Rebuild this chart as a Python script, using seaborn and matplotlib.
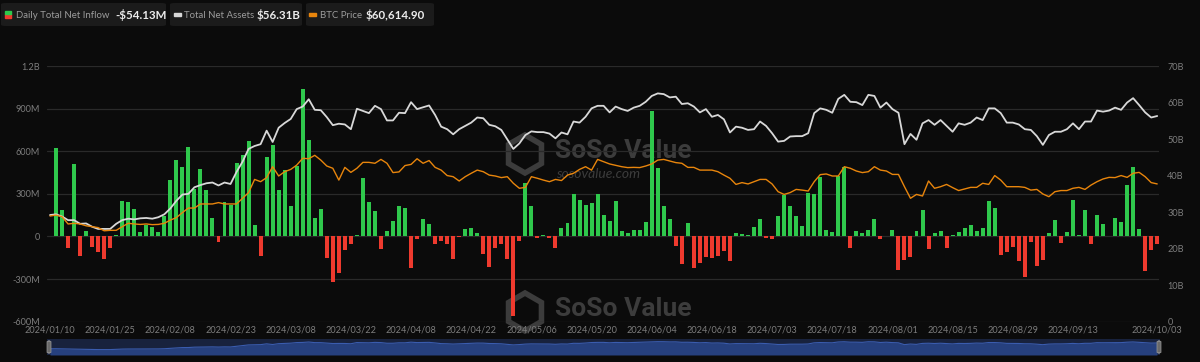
import numpy as np
import pandas as pd
import matplotlib
matplotlib.use("Agg")
import matplotlib.pyplot as plt
import seaborn as sns
from matplotlib.patches import FancyBboxPatch, Rectangle, RegularPolygon

# ---------------- data ----------------
holidays = ["2024-01-15", "2024-02-19", "2024-03-29", "2024-05-27",
            "2024-06-19", "2024-07-04", "2024-09-02"]
dates = [d for d in pd.bdate_range("2024-01-10", "2024-10-03")
         if d.strftime("%Y-%m-%d") not in holidays]

# Daily total net inflow (million USD)
inflow = [
    0, 625, 186, -78, 512, -134, 40, -75, -108, -157,
    -80, 12, 250, 241, 191, 33, 80, 64, 28, 142,
    399, 536, 491, 628, 335, 474, 328, 130, -36, 245,
    224, 514, 571, 670, 80, -140, 559, 642, 328, 470,
    217, 498, 1041, 677, 129, 195, -153, -322, -258, -92,
    -52, 12, 414, 240, 179, -85, 35, 108, 212, 200,
    -223, -16, 120, 87, -54, -35, -56, -162, -3, 56,
    59, 26, -120, -214, -80, -52, -160, -559, -33, 378,
    214, -14, 7, -14, -82, 61, 96, 296, 254, 219,
    237, 301, 150, 106, 249, 40, 23, 45, 45, 101,
    881, 484, 214, 125, -66, -197, 94, -223, -188, -146,
    -150, -139, -101, -172, 26, 16, 9, 70, 125, -9,
    -16, 141, 294, 212, 143, 73, 306, 296, 418, 49,
    33, 423, 489, -78, 40, 26, 47, 120, -16, 0,
    45, -235, -169, -148, 40, 188, -89, 23, 35, -80,
    7, 31, 59, 82, 35, 61, 247, 197, -127, -106,
    -71, -174, -284, -40, -209, -169, 26, 113, -47, 33,
    259, 9, 183, -54, 153, 89, 5, 132, 101, 362,
    489, 56, -242, -92, -54.13,
]

# Total net assets (billion USD)
assets = [
    29.2, 29.4, 28.8, 27.8, 27.8, 26.8, 26.9, 26.0, 25.4, 25.4,
    25.4, 26.8, 27.8, 28.2, 28.0, 28.3, 28.4, 28.2, 28.6, 29.4,
    31.0, 33.1, 34.8, 35.0, 36.8, 37.4, 37.9, 38.1, 37.3, 38.1,
    37.7, 41.0, 43.8, 47.3, 48.1, 48.6, 52.3, 49.2, 53.1, 54.4,
    55.5, 58.2, 58.9, 60.9, 58.0, 57.9, 56.0, 53.8, 54.2, 54.0,
    52.7, 58.3, 57.7, 57.1, 59.1, 58.2, 55.1, 55.1, 57.2, 57.1,
    60.1, 58.2, 58.7, 59.2, 56.6, 53.4, 52.7, 51.3, 52.7, 53.6,
    54.5, 55.9, 55.7, 53.9, 53.5, 52.5, 49.9, 47.3, 48.8, 51.1,
    52.1, 51.9, 51.9, 51.5, 50.2, 51.8, 51.3, 54.8, 54.5, 56.1,
    58.4, 59.1, 59.1, 57.3, 58.9, 58.2, 57.7, 58.6, 59.1, 60.2,
    61.8, 62.5, 62.3, 61.4, 61.6, 59.6, 59.8, 58.9, 57.3, 58.2,
    56.1, 56.6, 55.4, 51.8, 53.4, 53.1, 52.5, 52.7, 54.8, 53.6,
    51.6, 49.3, 49.5, 50.7, 50.8, 50.8, 51.6, 57.1, 58.4, 58.0,
    57.2, 61.0, 62.1, 60.2, 60.1, 59.3, 62.1, 61.8, 58.6, 60.0,
    58.2, 57.2, 48.6, 51.4, 49.8, 54.3, 55.2, 53.9, 55.2, 53.6,
    52.0, 54.3, 53.9, 54.5, 55.9, 55.2, 58.4, 58.4, 57.1, 54.5,
    54.5, 54.0, 52.7, 52.5, 50.8, 48.4, 51.1, 52.0, 52.0, 52.7,
    54.3, 52.7, 54.8, 54.8, 57.8, 57.5, 57.8, 58.6, 58.0, 60.0,
    61.2, 59.3, 57.3, 55.9, 56.31,
]

# BTC price (thousand USD)
btc = [
    46.5, 46.9, 46.2, 43.0, 43.3, 43.0, 42.2, 41.8, 41.4, 40.0,
    40.2, 40.2, 41.8, 43.3, 43.0, 42.8, 43.0, 42.7, 42.8, 43.3,
    44.7, 45.8, 48.0, 50.0, 50.0, 51.8, 51.8, 51.8, 52.4, 51.8,
    51.8, 51.8, 54.3, 56.8, 62.6, 61.6, 63.4, 68.2, 64.1, 66.0,
    67.0, 68.9, 71.9, 71.7, 73.2, 71.1, 68.5, 67.5, 62.3, 67.9,
    65.7, 67.5, 70.1, 70.1, 69.7, 71.4, 69.7, 65.6, 65.9, 68.7,
    69.2, 71.7, 69.7, 70.9, 67.9, 66.7, 64.3, 63.8, 61.9, 63.8,
    65.3, 66.7, 66.0, 64.5, 64.1, 63.4, 63.8, 60.9, 58.7, 59.1,
    63.8, 63.1, 62.3, 61.6, 62.6, 62.1, 64.5, 65.3, 67.0, 68.2,
    66.7, 71.4, 70.4, 69.4, 68.8, 68.2, 67.8, 67.9, 67.8, 68.5,
    69.4, 71.1, 71.4, 70.7, 70.0, 69.7, 67.9, 67.9, 66.7, 66.7,
    66.7, 66.0, 64.5, 63.1, 60.4, 61.2, 60.6, 61.6, 62.6, 62.6,
    60.6, 57.2, 56.0, 56.8, 58.2, 57.9, 57.5, 61.6, 64.7, 65.0,
    64.1, 64.1, 68.2, 67.5, 66.3, 65.6, 66.0, 68.2, 66.7, 66.3,
    64.8, 64.8, 59.4, 54.3, 56.0, 55.3, 61.9, 58.7, 59.4, 60.4,
    59.0, 57.7, 58.4, 59.1, 59.1, 60.9, 60.4, 64.3, 62.3, 59.4,
    59.4, 59.4, 59.1, 57.9, 58.2, 56.2, 55.0, 57.2, 57.7, 57.7,
    58.7, 59.1, 58.2, 60.1, 61.6, 62.8, 63.5, 63.4, 64.3, 63.5,
    65.3, 65.7, 63.8, 61.2, 60.6149,
]

left_ticks = [-600, -300, 0, 300, 600, 900, 1200]
left_labels = ["-600M", "-300M", "0", "300M", "600M", "900M", "1.2B"]
right_ticks = [0, 10, 20, 30, 40, 50, 60, 70]
right_labels = ["0", "10B", "20B", "30B", "40B", "50B", "60B", "70B"]
xtick_idx = list(range(0, 171, 10)) + [184]

# ---------------- style ----------------
BG = "#0b0b0b"
GREEN = "#2fc84c"
RED = "#ee3a2e"
WHITE = "#d8d8d8"
ORANGE = "#e8850c"
GRID = "#2a2a2a"
TXT = "#7d7d7d"

sns.set_theme(style="dark")
plt.rcParams["font.family"] = ["Lato", "DejaVu Sans"]

n = len(inflow)
df = pd.DataFrame({
    "idx": np.arange(n),
    "inflow": inflow,
    "dir": np.where(np.array(inflow) >= 0, "in", "out"),
    "assets": assets,
    "btc": btc,
})

fig = plt.figure(figsize=(12, 3.62), dpi=100, facecolor=BG)
L, R = 47 / 1200, 1159 / 1200
B, T = (362 - 321.7) / 362, (362 - 66) / 362
ax = fig.add_axes([L, B, R - L, T - B])
ax.set_facecolor("none")

sns.barplot(data=df, x="idx", y="inflow", hue="dir",
            palette={"in": GREEN, "out": RED}, width=0.66, dodge=False,
            saturation=1, legend=False, linewidth=0, ax=ax, zorder=2)
ax.set_ylim(-600, 1200)
ax.set_yticks(left_ticks)
ax.set_yticklabels(left_labels)
ax.set_xlim(-0.5, 184.3)
ax.set_xticks(xtick_idx)
ax.set_xticklabels([dates[i].strftime("%Y/%m/%d") for i in xtick_idx])
ax.set_xlabel("")
ax.set_ylabel("")
ax.grid(False)
for yv in left_ticks:
    ax.axhline(yv, color=GRID, lw=0.9, zorder=0)
ax.tick_params(axis="y", colors=TXT, labelsize=6.6, length=0, pad=5)
ax.tick_params(axis="x", colors=TXT, labelsize=6.6, length=0, pad=3)
for s in ax.spines.values():
    s.set_visible(False)

ax2 = ax.twinx()
sns.lineplot(data=df, x="idx", y="assets", color=WHITE, lw=1.3, ax=ax2)
ax2.set_ylim(0, 70)
ax2.set_yticks(right_ticks)
ax2.set_yticklabels(right_labels)
ax2.set_ylabel("")
ax2.grid(False)
ax2.tick_params(axis="y", colors=TXT, labelsize=6.6, length=0, pad=6)
for s in ax2.spines.values():
    s.set_visible(False)

ax3 = ax.twinx()
sns.lineplot(data=df, x="idx", y="btc", color=ORANGE, lw=1.0, ax=ax3)
ax3.set_ylim(0, 112.5)
ax3.set_yticks([])
ax3.set_ylabel("")
ax3.grid(False)
for s in ax3.spines.values():
    s.set_visible(False)
for a in (ax2, ax3):
    a.set_xlim(-0.5, 184.3)
    a.set_facecolor("none")

# ---------------- watermarks ----------------
WM = "#3c3c3c"
for cy in (151, 309):
    fig.text(555 / 1200, 1 - cy / 362, "SoSo Value", color=WM, fontsize=19,
             fontweight="bold", va="center", ha="left", zorder=-1,
             family=["Roboto", "DejaVu Sans"])
    hexa = RegularPolygon((525 / 1200 * 12, (1 - (cy + 3) / 362) * 3.62), 6,
                          radius=0.19, orientation=0, facecolor="none",
                          edgecolor=WM, lw=4,
                          transform=fig.dpi_scale_trans, zorder=-1)
    fig.patches.append(hexa)
fig.text(556 / 1200, 1 - 174 / 362, "sosovalue.com", color=WM, fontsize=10,
         style="italic", va="center", ha="left", zorder=-1)

# ---------------- legend (header) ----------------
def px(x, y):
    return x / 1200, 1 - y / 362

def box(x0, x1):
    fig.patches.append(FancyBboxPatch(
        px(x0, 26), (x1 - x0) / 1200, 23 / 362,
        boxstyle="round,pad=0,rounding_size=0.004",
        transform=fig.transFigure, facecolor="#1b1b1b", edgecolor="none"))

box(1, 166)
box(170, 302)
box(306, 434)
fig.patches.append(Rectangle(px(5, 17.5), 6 / 1200, 3.5 / 362,
                             transform=fig.transFigure, color=RED))
fig.patches.append(Rectangle(px(5, 14), 6 / 1200, 3.5 / 362,
                             transform=fig.transFigure, color=GREEN))
fig.patches.append(Rectangle(px(174, 16), 7 / 1200, 3 / 362,
                             transform=fig.transFigure, color=WHITE))
fig.patches.append(Rectangle(px(309, 16), 7 / 1200, 3 / 362,
                             transform=fig.transFigure, color=ORANGE))
LBL = "#9c9c9c"
VAL = "#ececec"
fig.text(*px(16, 15), "Daily Total Net Inflow", color=LBL, fontsize=6.9, va="center")
fig.text(*px(115, 15), "-$54.13M", color=VAL, fontsize=8.3, fontweight="bold", va="center")
fig.text(*px(184, 15), "Total Net Assets", color=LBL, fontsize=6.9, va="center")
fig.text(*px(257, 15), "$56.31B", color=VAL, fontsize=8.3, fontweight="bold", va="center")
fig.text(*px(320, 15), "BTC Price", color=LBL, fontsize=6.9, va="center")
fig.text(*px(366, 15), "$60,614.90", color=VAL, fontsize=8.3, fontweight="bold", va="center")

# ---------------- data-zoom slider ----------------
axs = fig.add_axes([47 / 1200, (362 - 355) / 362, 1113 / 1200, 16 / 362])
axs.set_facecolor("#18223d")
axs.fill_between(df["idx"], df["assets"], 0, color="#26407e", lw=0)
axs.plot(df["idx"], df["assets"], color="#3a5cae", lw=0.8)
axs.set_xlim(-0.5, 184.5)
axs.set_ylim(0, 75)
axs.set_xticks([])
axs.set_yticks([])
axs.grid(False)
for s in axs.spines.values():
    s.set_visible(False)
for hx in (49, 1159):
    fig.patches.append(FancyBboxPatch(
        px(hx - 2, 353), 4 / 1200, 12 / 362,
        boxstyle="round,pad=0,rounding_size=0.002",
        transform=fig.transFigure, facecolor="#6a6a6a", edgecolor="#9a9a9a", lw=0.5))

fig.savefig("out.png", dpi=100, facecolor=BG)
